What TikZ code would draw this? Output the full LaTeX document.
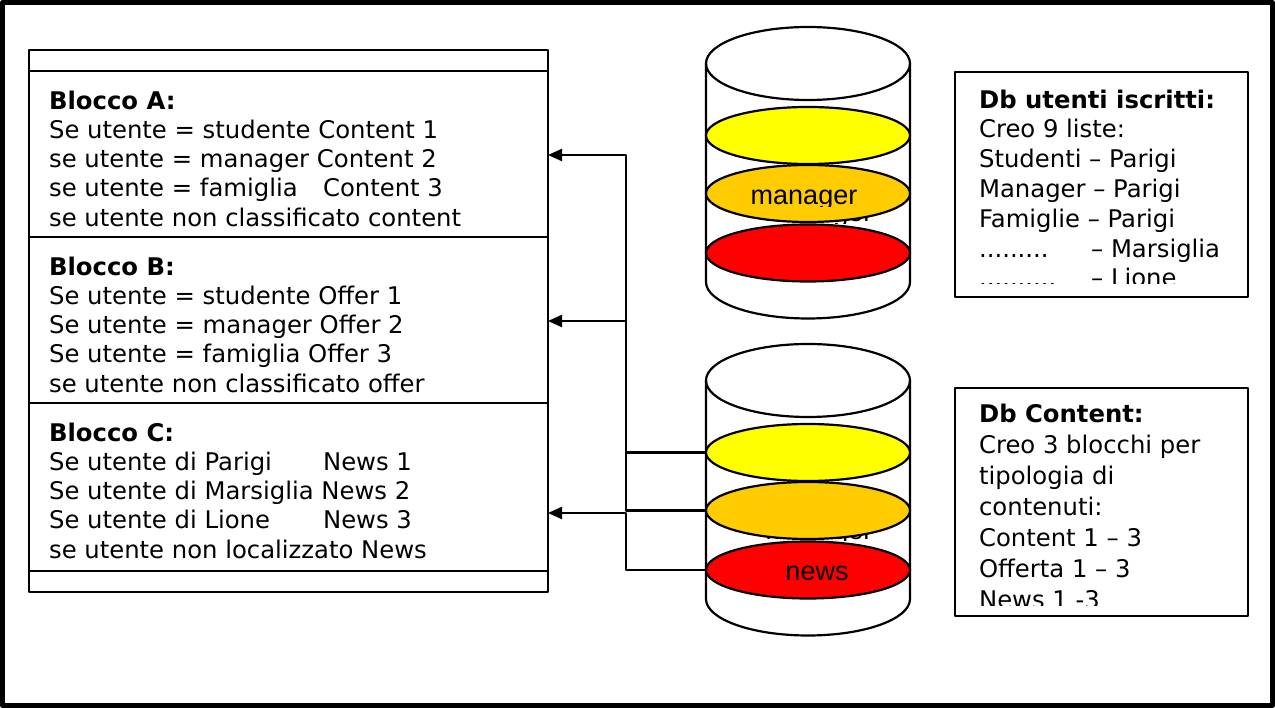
\documentclass[tikz,border=0pt]{standalone}
\usepackage{fontspec}
\setmainfont{DejaVu Sans}
\newfontfamily\arialfont{Liberation Sans}
\usetikzlibrary{arrows.meta,shapes.geometric,positioning}
\definecolor{giallo}{HTML}{FFFF00}
\definecolor{arancio}{HTML}{FFCC00}
\definecolor{rosso}{HTML}{FF0000}

\begin{document}
\begin{tikzpicture}[x=1pt, y=-1pt, line join=round, line width=2.2pt,
	>={Triangle[length=14pt,width=12pt]},
	testo/.style={anchor=north west, inner sep=0pt, align=left,
		font=\fontsize{24.3}{29.3}\selectfont},
	strato/.style={ellipse, draw, minimum width=204pt, minimum height=57pt, inner sep=0pt},
	etich/.style={anchor=base, inner sep=0pt, font=\arialfont\fontsize{27}{27}\selectfont}]
	\def\rx{102}  % semiasse orizzontale dei cilindri
	\def\ry{36.5} % semiasse verticale
	\useasboundingbox (0,0) rectangle (1275,708);
	\draw[line width=5pt] (2.5,2.5) rectangle (1272.5,705.5);
	
	% blocchi a sinistra
	\draw (29,50) rectangle (548,592)
	(29,71) -- (548,71)
	(29,237) -- (548,237)
	(29,403) -- (548,403)
	(29,571) -- (548,571);
	\coordinate (inA) at (548,155);
	\coordinate (inB) at (548,321);
	\coordinate (inC) at (548,513);
	
	\node[testo] (tA) at (48,89.5) {\textbf{Blocco A:}\\
		Se utente = studente Content 1\\
		se utente = manager Content 2\\
		\makebox[274pt][l]{se utente = famiglia}Content 3\\
		se utente non classificato content};
	\node[testo] (tB) at (48,255.5) {\textbf{Blocco B:}\\
		Se utente = studente Offer 1\\
		Se utente = manager Offer 2\\
		Se utente = famiglia Offer 3\\
		se utente non classificato offer};
	\node[testo] (tC) at (48,421.5) {\textbf{Blocco C:}\\
		\makebox[274pt][l]{Se utente di Parigi}News 1\\
		Se utente di Marsiglia News 2\\
		\makebox[274pt][l]{Se utente di Lione}News 3\\
		se utente non localizzato News};
	
	% cilindri: utenti (1) e content (2)
	\foreach \dy/\n in {0/1,317/2}{
		\draw (706,63.5+\dy) -- (706,282+\dy)
		arc (180:0:{\rx} and {\ry}) -- (910,63.5+\dy);
		\draw (808,63.5+\dy) ellipse ({\rx} and {\ry});
		\node[strato, fill=giallo] (ey\n) at (808,135.5+\dy) {};
		\begin{scope}
			\clip (700,180+\dy) rectangle (900,223.5+\dy);
			\node[etich] at (819,222+\dy) {manager};
		\end{scope}
		\node[strato, fill=arancio] (eo\n) at (808,193.5+\dy) {};
		\node[strato, fill=rosso] (er\n) at (808,253+\dy) {};
	}
	\begin{scope}
		\clip (700,170) rectangle (900,207);
		\node[etich] (lman) at (804,205) {manager};
	\end{scope}
	\node[etich] (lnews) at (817,580) {news};
	
	% box descrittivi
	\draw (955,72) rectangle (1248,297);
	\draw (955,388) rectangle (1248,616);
	\begin{scope}
		\clip (956,73) rectangle (1247,284);
		\node[testo, font=\fontsize{24.3}{29.8}\selectfont] (tU) at (978,88.5)
		{\textbf{Db utenti iscritti:}\\
			Creo 9 liste:\\
			Studenti – Parigi\\
			Manager – Parigi\\
			Famiglie – Parigi\\
			\makebox[112pt][l]{.........}– Marsiglia\\
			\makebox[112pt][l]{..........}– Lione};
	\end{scope}
	\begin{scope}
		\clip (956,389) rectangle (1247,605.5);
		\node[testo, font=\fontsize{24.3}{31}\selectfont] (tD) at (978,402.5)
		{\textbf{Db Content:}\\
			Creo 3 blocchi per\\
			tipologia di\\
			contenuti:\\
			Content 1 – 3\\
			Offerta 1 – 3\\
			News 1 -3};
	\end{scope}
	
	% collegamenti
	\draw[->] (ey2.west) -- ++(-79,0) |- (inA);
	\draw[->] (eo2.west) -- ++(-79,0) |- (inB);
	\draw[->] (er2.west) -- ++(-79,0) |- (inC);
\end{tikzpicture}
\end{document}
